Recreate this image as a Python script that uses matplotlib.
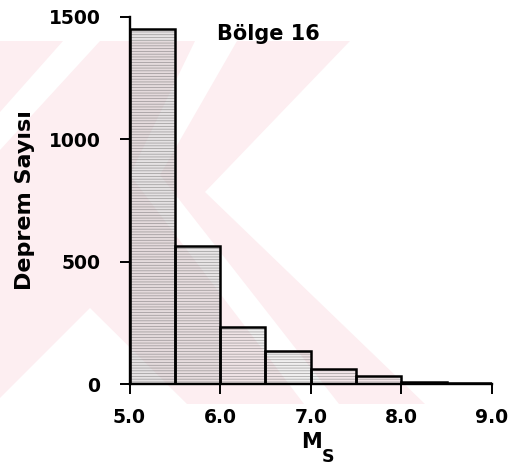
import numpy as np
import matplotlib
matplotlib.use("Agg")
import matplotlib.pyplot as plt
from matplotlib.patches import Polygon

# Magnitude bins (Ms) and earthquake counts per bin
bin_edges = [5.0, 5.5, 6.0, 6.5, 7.0, 7.5, 8.0, 8.5, 9.0]
counts = [1450, 565, 232, 135, 60, 34, 8, 3]

x_ticks = [5.0, 6.0, 7.0, 8.0, 9.0]
x_tick_labels = ["5.0", "6.0", "7.0", "8.0", "9.0"]
y_ticks = [0, 500, 1000, 1500]
y_tick_labels = ["0", "500", "1000", "1500"]

title_text = "Bölge 16"
y_label_text = "Deprem Sayısı"

W, H = 523, 468
fig = plt.figure(figsize=(W / 100, H / 100), dpi=100)
fig.patch.set_facecolor("white")


def to_fig(points):
    return [(x / W, 1 - y / H) for x, y in points]


# faint background emblem (pixel geometry, y measured from the top)
pink = "#fdeef1"
emblem = [
    ([(0, 41), (350, 41), (205, 192), (425, 404), (0, 404)], pink),
    ([(63, 41), (100, 41), (0, 150), (0, 112)], "white"),
    ([(195, 41), (237, 41), (160, 175), (339, 404), (304, 404), (130, 175)], "white"),
    ([(90, 308), (0, 398), (0, 404), (187, 404)], "white"),
]
for pts, col in emblem:
    fig.add_artist(Polygon(to_fig(pts), closed=True, transform=fig.transFigure,
                           facecolor=col, edgecolor="none", zorder=0))

ax = fig.add_axes([129.5 / W, 84 / H, (492 - 129.5) / W, (384 - 17) / H])
ax.patch.set_alpha(0)
ax.set_zorder(1)

lefts = bin_edges[:-1]
widths = np.diff(bin_edges)

# stippled fill: darker for the two leading bins
shades = [0.5, 0.45, 0.28, 0.28, 0.22, 0.22, 0.22, 0.22]
plt.rcParams["hatch.linewidth"] = 0.5
for l, w, c, s in zip(lefts, widths, counts, shades):
    ax.bar(l, c, width=w, align="edge", facecolor=(0.8, 0.78, 0.79, s),
           edgecolor=(0.3, 0.3, 0.3, 0.5), linewidth=0, hatch="------", zorder=2)
ax.bar(lefts, counts, width=widths, align="edge", fill=False,
       edgecolor="black", linewidth=1.8, zorder=3)

ax.set_xlim(5.0, 9.0)
ax.set_ylim(0, 1500)
for side in ("top", "right"):
    ax.spines[side].set_visible(False)
for side in ("left", "bottom"):
    ax.spines[side].set_linewidth(1.7)
    ax.spines[side].set_color("black")
    ax.spines[side].set_zorder(4)

tick_font = dict(family="DejaVu Sans", weight="bold", size=13.5)
ax.set_xticks(x_ticks)
ax.set_xticklabels(x_tick_labels, fontdict=tick_font)
ax.set_yticks(y_ticks)
ax.set_yticklabels(y_tick_labels, fontdict=tick_font)
ax.tick_params(axis="y", direction="out", length=7, width=1.4, pad=14, colors="black")
ax.tick_params(axis="x", direction="out", length=7, width=1.4, pad=10, colors="black")

fig.text(268 / W, 1 - 40 / H, title_text, ha="center", va="baseline",
         family="DejaVu Sans", weight="bold", fontsize=15)
fig.text(25 / W, 1 - 200 / H, y_label_text, rotation=90, ha="center", va="center",
         family="DejaVu Sans", weight="bold", fontsize=16)
fig.text(322 / W, 1 - 448 / H, "M", ha="right", va="baseline",
         family="DejaVu Sans", weight="bold", fontsize=15)
fig.text(322 / W, 1 - 462 / H, "S", ha="left", va="baseline",
         family="DejaVu Sans", weight="bold", fontsize=12.5)

fig.savefig("out.png", dpi=100, facecolor="white")
